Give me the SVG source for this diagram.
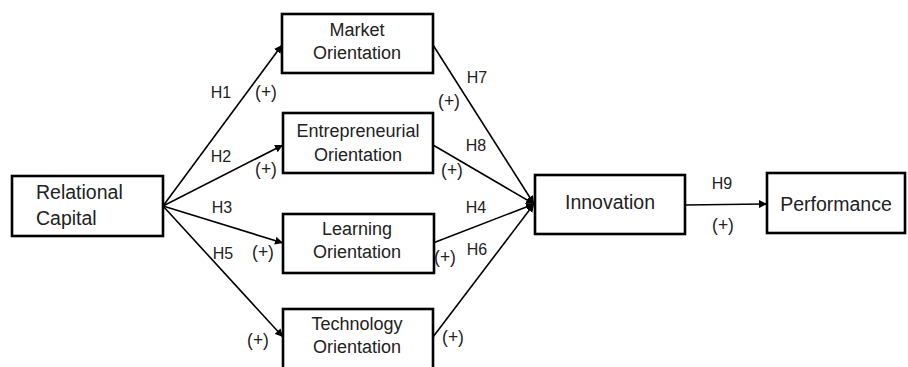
<svg xmlns="http://www.w3.org/2000/svg" width="908" height="367" viewBox="0 0 908 367">
<style>
.box{fill:#fff;stroke:#000;stroke-width:2.6}
.t{font-family:"Liberation Sans",Arial,sans-serif;fill:#222;text-anchor:middle}
.n{font-size:18px}
.b{font-size:19.5px}
.l{font-size:16px}
.p{font-size:17.5px}
.c{stroke:#000;stroke-width:1.6;fill:none;marker-end:url(#ah)}
</style>
<defs>
<marker id="ah" viewBox="0 0 10 10" refX="10" refY="5" markerWidth="5" markerHeight="5" orient="auto" markerUnits="strokeWidth">
<path d="M0,0 L10,5 L0,10 z" fill="#000"/>
</marker>
</defs>
<rect width="908" height="367" fill="#fff"/>
<g id="connectors">
<line class="c" x1="163" y1="206" x2="282" y2="45"/>
<line class="c" x1="163" y1="206" x2="283" y2="145"/>
<line class="c" x1="163" y1="206" x2="283" y2="243"/>
<line class="c" x1="163" y1="206" x2="283" y2="337"/>
<line class="c" x1="433" y1="45" x2="534" y2="204"/>
<line class="c" x1="433" y1="145" x2="534" y2="204"/>
<line class="c" x1="433" y1="243" x2="534" y2="204"/>
<line class="c" x1="433" y1="337" x2="534" y2="204"/>
<line class="c" x1="685" y1="205" x2="767" y2="204"/>
</g>
<g id="labels">
<text class="t l" x="221" y="98">H1</text>
<text class="t p" x="266" y="98">(+)</text>
<text class="t l" x="221" y="162">H2</text>
<text class="t p" x="266" y="175">(+)</text>
<text class="t l" x="222" y="213">H3</text>
<text class="t p" x="263" y="258">(+)</text>
<text class="t l" x="223" y="259">H5</text>
<text class="t p" x="258" y="346">(+)</text>
<text class="t l" x="477" y="83">H7</text>
<text class="t p" x="449" y="107">(+)</text>
<text class="t l" x="476" y="151">H8</text>
<text class="t p" x="452" y="176">(+)</text>
<text class="t l" x="476" y="213">H4</text>
<text class="t p" x="445" y="263">(+)</text>
<text class="t l" x="477" y="255">H6</text>
<text class="t p" x="453" y="343">(+)</text>
<text class="t l" x="722" y="189">H9</text>
<text class="t p" x="723" y="231">(+)</text>
</g>
<g id="relational-capital">
<rect class="box" x="12" y="176" width="151" height="60"/>
<text class="t b" x="36" y="199" style="text-anchor:start">Relational</text>
<text class="t b" x="36" y="225" style="text-anchor:start">Capital</text>
</g>
<g id="market-orientation">
<rect class="box" x="282" y="14" width="151" height="59"/>
<text class="t n" x="357" y="36">Market</text>
<text class="t n" x="357" y="59">Orientation</text>
</g>
<g id="entrepreneurial-orientation">
<rect class="box" x="283" y="113" width="150" height="60"/>
<text class="t n" x="358" y="137">Entrepreneurial</text>
<text class="t n" x="358" y="161">Orientation</text>
</g>
<g id="learning-orientation">
<rect class="box" x="283" y="214" width="151" height="59"/>
<text class="t n" x="357" y="235">Learning</text>
<text class="t n" x="357" y="258">Orientation</text>
</g>
<g id="technology-orientation">
<rect class="box" x="283" y="309" width="150" height="70"/>
<text class="t n" x="357" y="330">Technology</text>
<text class="t n" x="357" y="353">Orientation</text>
</g>
<g id="innovation">
<rect class="box" x="535" y="175" width="150" height="59"/>
<text class="t b" x="610" y="209">Innovation</text>
</g>
<g id="performance">
<rect class="box" x="767" y="173" width="138" height="60"/>
<text class="t b" x="836" y="211">Performance</text>
</g>
</svg>
